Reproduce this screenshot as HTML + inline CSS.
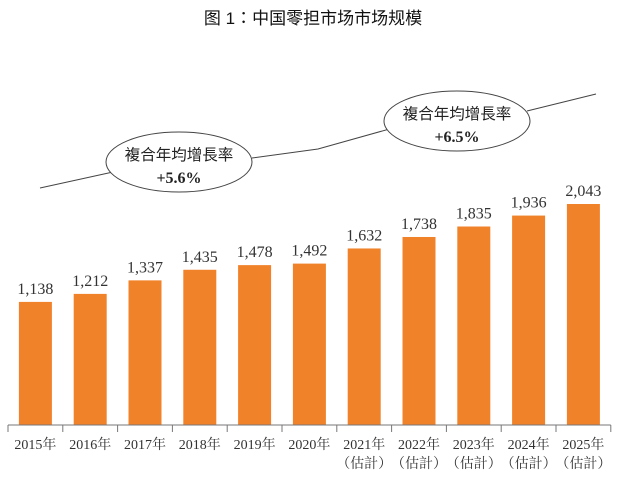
<!DOCTYPE html>
<html><head><meta charset="utf-8"><style>
body{margin:0;background:#fff;}
svg{display:block;font-family:"Liberation Serif","Noto Serif CJK SC",serif;}
</style></head><body>
<svg id="c" width="626" height="482">
<text x="313" y="24" text-anchor="middle" font-size="17" font-family="'Liberation Sans','Noto Sans CJK TC',sans-serif" fill="#111">图 1：中国零担市场市场规模</text>
<g>
<polyline points="40,188 113,172" fill="none" stroke="#444" stroke-width="1"/>
<polyline points="252,158 318,149 393,128" fill="none" stroke="#444" stroke-width="1"/>
<polyline points="527,111 596,94" fill="none" stroke="#444" stroke-width="1"/>
<ellipse cx="179" cy="162" rx="73" ry="30" fill="#fff" stroke="#444"/>
<text x="179" y="160" text-anchor="middle" font-size="15.5" font-family="'Liberation Sans','Noto Sans CJK TC',sans-serif" fill="#222">複合年均增長率</text>
<text x="179" y="183" text-anchor="middle" font-size="16" font-weight="bold" fill="#222">+5.6%</text>
<ellipse cx="457" cy="121" rx="73" ry="30" fill="#fff" stroke="#444"/>
<text x="457" y="119" text-anchor="middle" font-size="15.5" font-family="'Liberation Sans','Noto Sans CJK TC',sans-serif" fill="#222">複合年均增長率</text>
<text x="457" y="142" text-anchor="middle" font-size="16" font-weight="bold" fill="#222">+6.5%</text>
</g>
<g id="bars"></g>
</svg>
<script>
const years=["2015年","2016年","2017年","2018年","2019年","2020年","2021年","2022年","2023年","2024年","2025年"];
const estimated=[false,false,false,false,false,false,true,true,true,true,true];
const values=[1138,1212,1337,1435,1478,1492,1632,1738,1835,1936,2043];
const labels=["1,138","1,212","1,337","1,435","1,478","1,492","1,632","1,738","1,835","1,936","2,043"];
const NS="http://www.w3.org/2000/svg";
const g=document.getElementById('bars');
const x0=8,step=54.8,bw=33,base=425,k=221/2043;
const X=i=>x0+i*step;
const Y=v=>base-v*k;
function mk(t,a){const e=document.createElementNS(NS,t);for(const n in a)e.setAttribute(n,a[n]);g.appendChild(e);return e;}
values.forEach((v,i)=>{
 const cx=X(i)+step/2;
 const r=mk('rect',{x:cx-bw/2,y:Y(v),width:bw,height:base-Y(v),fill:'#f0822a'});
 
 
 const t=mk('text',{x:cx,y:Y(v)-8,'text-anchor':'middle','font-size':16,fill:'#333'});
 t.textContent=labels[i];
 
 
 const yl=mk('text',{x:cx,y:449,'text-anchor':'middle','font-size':14,fill:'#333'});
 yl.textContent=years[i];
 
 
 if(estimated[i]){const e=mk('text',{x:cx,y:468,'text-anchor':'middle','font-size':14,fill:'#333'});e.textContent='（估計）';
 
 }
});
const ax=mk('line',{x1:X(0),x2:X(values.length),y1:base,y2:base,stroke:'#777'});


for(let i=0;i<=values.length;i++){const tk=mk('line',{x1:X(i),x2:X(i),y1:base,y2:base+7,stroke:'#777'});

}
</script>
</body></html>
